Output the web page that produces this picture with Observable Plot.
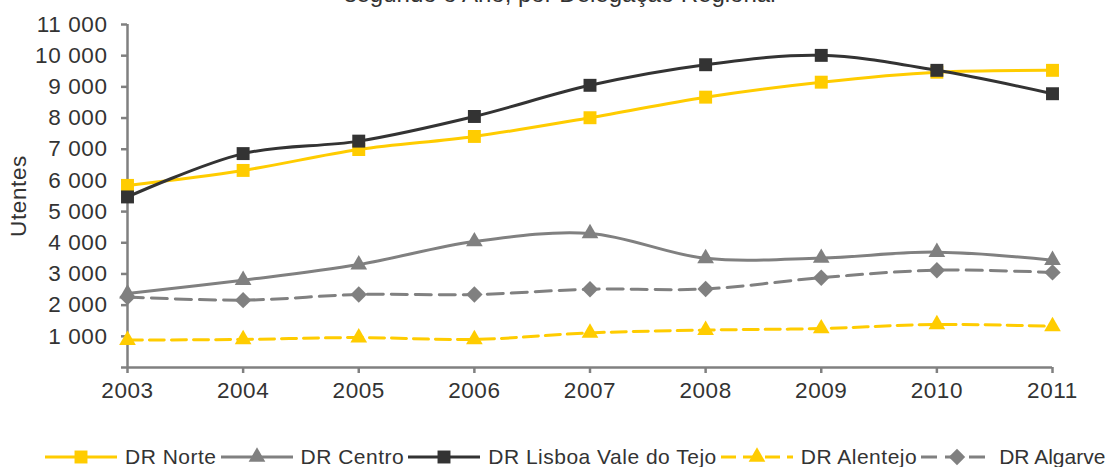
<!DOCTYPE html>
<html>
<head>
<meta charset="utf-8">
<script src="https://cdn.jsdelivr.net/npm/d3@7"></script>
<script src="https://cdn.jsdelivr.net/npm/@observablehq/plot@0.6"></script>
<style>
  html, body { margin: 0; padding: 0; background: #fff; }
  body { width: 1112px; height: 467px; overflow: hidden; font-family: "Liberation Sans", Arial, sans-serif; color: #333; }
  #title { height: 8px; overflow: hidden; text-align: center; }
  #title span { display: block; font-size: 24px; line-height: 24px; margin-top: -18px; padding-left: 8px; color: #333; }
  #chart svg text { letter-spacing: 0.6px; }
  #legend { height: 37px; display: flex; align-items: center; padding-top: 17px; box-sizing: border-box; padding-left: 45px; font-size: 21px; line-height: 20px; letter-spacing: 0.5px; }
  #legend .item { display: flex; align-items: center; }
  #legend svg { display: block; margin-right: 8px; }
  #legend .item span { margin-right: 4px; white-space: nowrap; }
  #legend .item:last-child svg { margin-right: 6px; }
  #legend .item:last-child span { letter-spacing: 0; margin-right: 0; }
</style>
</head>
<body>
<div id="title"><span>segundo o Ano, por Delegação Regional</span></div>
<div id="chart"></div>
<div id="legend"></div>
<script>
// ---- data ----
const years = [2003, 2004, 2005, 2006, 2007, 2008, 2009, 2010, 2011];
const seriesNames = ["DR Norte", "DR Centro", "DR Lisboa Vale do Tejo", "DR Alentejo", "DR Algarve"];
const norte    = [5840, 6320, 6990, 7410, 8010, 8670, 9150, 9470, 9530];
const centro   = [2370, 2800, 3300, 4040, 4300, 3500, 3510, 3700, 3440];
const lisboa   = [5470, 6860, 7260, 8050, 9050, 9710, 10010, 9530, 8780];
const alentejo = [880, 900, 960, 900, 1110, 1200, 1250, 1380, 1320];
const algarve  = [2260, 2160, 2340, 2340, 2510, 2520, 2880, 3120, 3050];
const yTicks = [0, 1000, 2000, 3000, 4000, 5000, 6000, 7000, 8000, 9000, 10000, 11000];
const yLabel = "Utentes";

// ---- styles ----
const YELLOW = "#FFCC00", GRAY = "#808080", DARK = "#333333";
const styles = [
  {color: YELLOW, dash: null,   symbol: d3.symbolSquare,   r: 7.3},
  {color: GRAY,   dash: null,   symbol: d3.symbolTriangle, r: 6.2},
  {color: DARK,   dash: null,   symbol: d3.symbolSquare,   r: 7.3},
  {color: YELLOW, dash: "15,7", symbol: d3.symbolTriangle, r: 6.2},
  {color: GRAY,   dash: "16,8", symbol: d3.symbolDiamond2, r: 7.4}
];
const values = [norte, centro, lisboa, alentejo, algarve];
const tables = values.map((vals, i) => vals.map((v, j) => ({year: years[j], value: v, series: seriesNames[i]})));

const loc = d3.formatLocale({decimal: ",", thousands: " ", grouping: [3], currency: ["", ""]});
const fmt = loc.format(",");

const marks = [];
marks.push(Plot.ruleX([years[0]], {y1: yTicks[0], y2: yTicks[yTicks.length - 1], stroke: GRAY, strokeWidth: 2.5}));
marks.push(Plot.ruleY([0], {stroke: GRAY, strokeWidth: 2.5}));
marks.push(Plot.axisY({ticks: yTicks, tickSize: 6, tickPadding: 14, stroke: GRAY, strokeWidth: 2.5, fill: "#333",
  tickFormat: d => d === 0 ? "" : fmt(d), label: yLabel, labelAnchor: "center", labelOffset: 117, labelArrow: "none"}));
marks.push(Plot.axisX({ticks: years, tickSize: 6, tickPadding: 9, stroke: GRAY, strokeWidth: 2.5, fill: "#333",
  tickFormat: d => String(d), label: null}));

tables.forEach((t, i) => {
  const s = styles[i];
  marks.push(Plot.line(t, {x: "year", y: "value", stroke: s.color, strokeWidth: 3, curve: "catmull-rom",
    strokeDasharray: s.dash || undefined}));
  marks.push(Plot.dot(t, {x: "year", y: "value", symbol: () => s.symbol, r: s.r, fill: s.color, stroke: "none"}));
});

const chart = Plot.plot({
  width: 1112,
  height: 422,
  marginLeft: 127,
  marginRight: 60,
  marginTop: 16,
  marginBottom: 63,
  x: {domain: [years[0], years[years.length - 1]]},
  y: {domain: [yTicks[0], yTicks[yTicks.length - 1]]},
  style: {fontFamily: '"Liberation Sans", Arial, sans-serif', fontSize: "22.5px", color: "#333", background: "#fff", overflow: "visible"},
  marks
});
document.getElementById("chart").appendChild(chart);

// ---- legend ----
const legend = d3.select("#legend");
seriesNames.forEach((name, i) => {
  const s = styles[i];
  const item = legend.append("div").attr("class", "item");
  const svg = item.append("svg").attr("width", 72).attr("height", 20);
  svg.append("line").attr("x1", 0).attr("x2", 72).attr("y1", 10).attr("y2", 10)
    .attr("stroke", s.color).attr("stroke-width", 3)
    .attr("stroke-dasharray", s.dash ? s.dash : null);
  svg.append("path").attr("transform", "translate(36,10)")
    .attr("d", d3.symbol(s.symbol, s.r * s.r * Math.PI)()).attr("fill", s.color);
  item.append("span").text(name);
});
</script>
</body>
</html>
